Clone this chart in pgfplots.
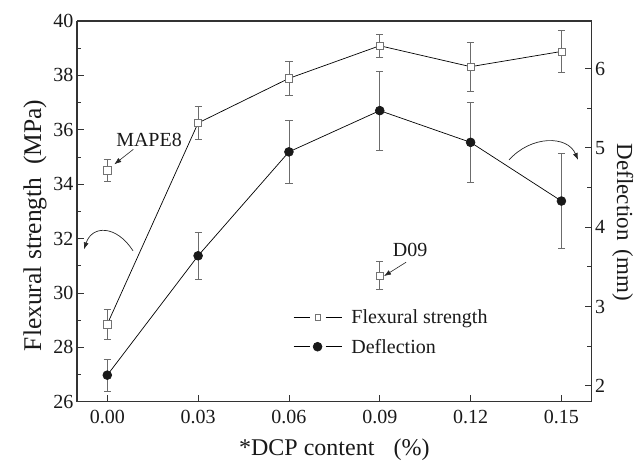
\documentclass[border=0pt]{standalone}
\usepackage{fontspec}
\setmainfont{Liberation Serif}
\usepackage{pgfplots}
\pgfplotsset{compat=1.18}
\usetikzlibrary{arrows.meta}

\pgfplotsset{
  base/.style={
    scale only axis, width=514.7pt, height=380.7pt,
    xmin=-0.01, xmax=0.16,
    tick label style={font=\fontsize{20}{24}\selectfont, /pgf/number format/assume math mode=true, black!90},
    label style={font=\fontsize{24}{28}\selectfont, black!90},
    tick align=inside,
    major tick length=7pt, minor tick length=4.5pt,
    axis line style={line width=1.1pt, black!80},
    every tick/.style={black!80, line width=0.8pt},
    clip=false,
  },
  flexstyle/.style={black, line width=0.7pt, mark=square*, mark size=3.6pt,
    mark options={solid, fill=white, draw=gray!90!black, line width=0.6pt}},
  defstyle/.style={black, line width=0.7pt, mark=*, mark size=4.4pt,
    mark options={solid, fill=black!90, draw=black!90}},
  errstyle/.style={error bars/.cd, y dir=both, y explicit,
    error bar style={gray!85!black, line width=0.6pt},
    error mark options={rotate=90, mark size=3.6pt, gray!85!black, line width=0.6pt}},
}

\begin{document}
\begin{tikzpicture}
\path[use as bounding box] (-77pt,-61.3pt) rectangle (562pt,401.7pt);

\begin{axis}[base,
  axis y line*=left,
  xtick pos=bottom,
  ymin=26, ymax=40,
  ytick={26,28,30,32,34,36,38,40},
  minor y tick num=1,
  xtick={0,0.03,0.06,0.09,0.12,0.15},
  xticklabels={0.00,0.03,0.06,0.09,0.12,0.15},
  xticklabel style={yshift=-5pt},
  xlabel={*DCP content\hspace{0.8em}(\%)},
  xlabel style={yshift=-8pt},
  ylabel={Flexural strength\hspace{0.5em}(MPa)},
  ylabel style={font=\fontsize{25.5}{30}\selectfont, at={(ticklabel cs:0.463)}},
]
\addplot[flexstyle, errstyle] coordinates {
  (0,28.85) +- (0,0.56)
  (0.03,36.25) +- (0,0.60)
  (0.06,37.89) +- (0,0.64)
  (0.09,39.09) +- (0,0.43)
  (0.12,38.32) +- (0,0.91)
  (0.15,38.88) +- (0,0.77)
};
\addplot[flexstyle, only marks, errstyle] coordinates {
  (0,34.51) +- (0,0.40)
};
\addplot[flexstyle, only marks, errstyle] coordinates {
  (0.09,30.64) +- (0,0.52)
};
\node[font=\fontsize{20}{24}\selectfont, black!90] at (axis cs:0.0138,35.62) {MAPE8};
\draw[-{Latex[length=7pt,width=5pt]}, line width=0.6pt, black!85] (axis cs:0.0086,35.28) -- (axis cs:0.00232,34.73);
\node[font=\fontsize{20}{24}\selectfont, black!90] at (axis cs:0.100,31.59) {D09};
\draw[-{Latex[length=7pt,width=5pt]}, line width=0.6pt, black!85] (axis cs:0.0987,31.13) -- (axis cs:0.0914,30.62);
\draw[-{Latex[length=7pt,width=5pt]}, line width=0.7pt, black!85] (axis cs:0.0085,31.55) .. controls (axis cs:0.003,32.5) and (axis cs:-0.005,32.5) .. (axis cs:-0.0077,31.6);
\draw[-{Latex[length=7pt,width=5pt]}, line width=0.7pt, black!85] (axis cs:0.1327,34.89) .. controls (axis cs:0.140,35.8) and (axis cs:0.152,35.8) .. (axis cs:0.1555,34.89);
\end{axis}

\begin{axis}[base,
  axis y line*=right,
  axis x line=none,
  ymin=1.8, ymax=6.6,
  ytick={2,3,4,5,6},
  minor y tick num=1,
  ylabel={Deflection\hspace{0.4em}(mm)},
  ylabel style={rotate=180, font=\fontsize{23}{28}\selectfont, at={(ticklabel cs:0.471)}},
  legend style={at={(0.4197,0.183)}, anchor=west, draw=none, fill=none, inner sep=0pt,
    font=\fontsize{20}{24}\selectfont, row sep=9pt, text=black!90,
    nodes={inner sep=2.5pt},
    /tikz/every odd column/.append style={column sep=7pt}},
  legend cell align=left,
  legend image code/.code={
    \draw[#1, mark=none] (0pt,0pt) -- (16pt,0pt);
    \draw[#1, mark=none] (32pt,0pt) -- (48pt,0pt);
    \draw[#1] plot[only marks] coordinates {(24pt,0pt)};
  },
]
\addlegendimage{flexstyle, mark size=2.6pt}
\addlegendentry{Flexural strength}
\addplot[defstyle, errstyle] coordinates {
  (0,2.135) +- (0,0.20)
  (0.03,3.64) +- (0,0.30)
  (0.06,4.95) +- (0,0.40)
  (0.09,5.47) +- (0,0.50)
  (0.12,5.07) +- (0,0.50)
  (0.15,4.33) +- (0,0.60)
};
\addlegendentry{Deflection}
\end{axis}
\end{tikzpicture}
\end{document}
